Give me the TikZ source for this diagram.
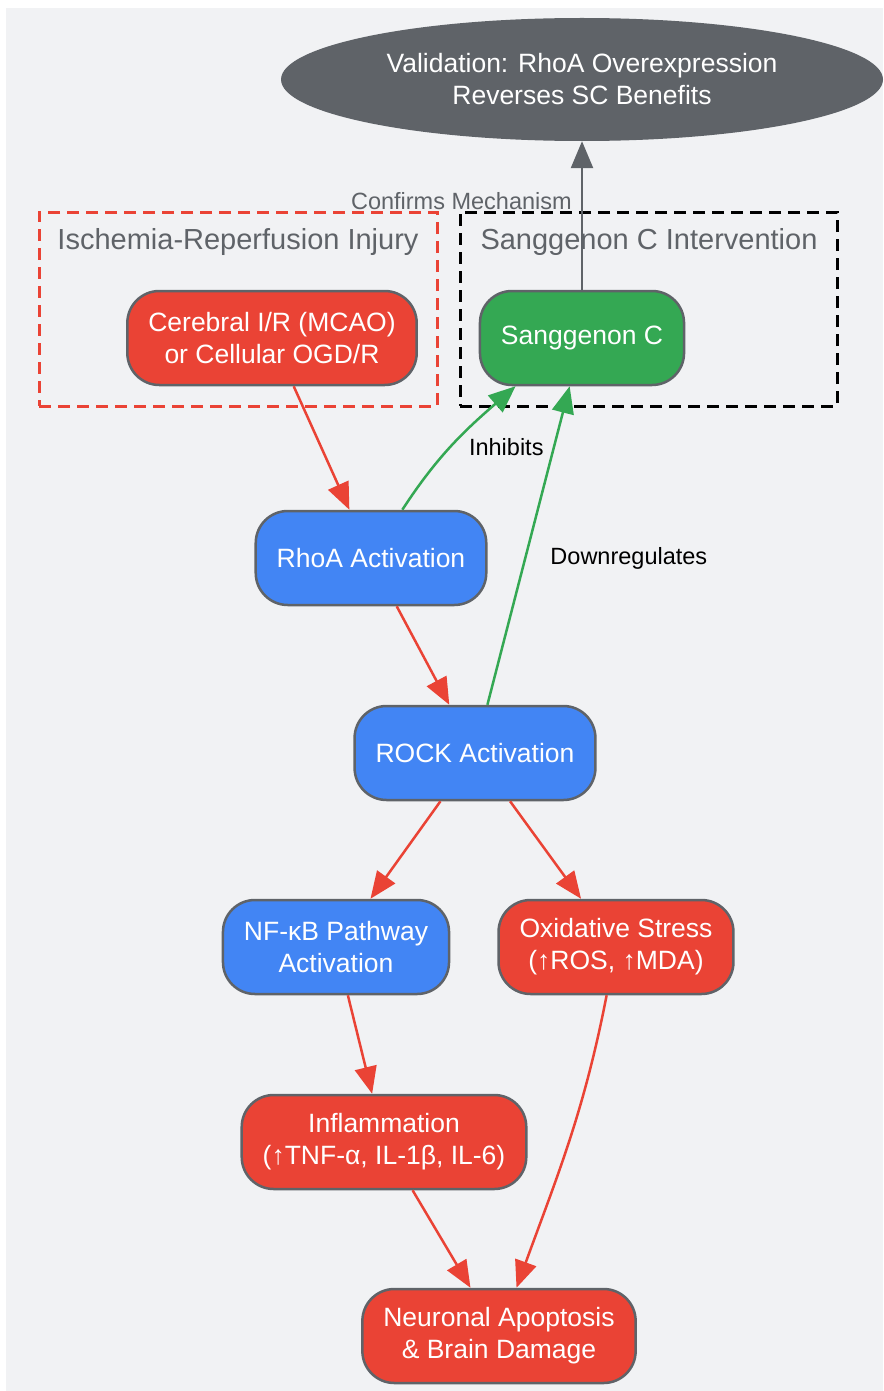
\documentclass[tikz,border=0pt]{standalone}
\usepackage{fontspec}
\setmainfont{Liberation Sans}
\usetikzlibrary{shapes.geometric,arrows.meta,positioning}
\definecolor{irred}{HTML}{EA4335}
\definecolor{rhoblue}{HTML}{4285F4}
\definecolor{scgreen}{HTML}{34A853}
\definecolor{slate}{HTML}{5F6368}
\definecolor{paper}{HTML}{F1F2F4}
\def\nodefont{\fontsize{26.5}{32}\selectfont}
\def\clusterfont{\fontsize{29}{35}\selectfont}
\def\labelfont{\fontsize{23.5}{28}\selectfont}
\def\lw{2.5pt}
\tikzstyle{proc} = [draw=slate,line width=\lw,rectangle,rounded corners=32pt,minimum height=94pt,inner xsep=21pt,align=center,text=white,font=\nodefont]
\tikzstyle{goal} = [ellipse,fill=slate,minimum width=602pt,minimum height=123pt,inner sep=0pt,align=center,text=white,font=\nodefont]
\tikzstyle{cluster} = [draw,line width=3pt,rectangle,dash pattern=on 12pt off 7pt,inner sep=0pt]
\tikzstyle{ctitle} = [text=slate,font=\clusterfont,inner sep=0pt]
\tikzstyle{conn} = [line width=\lw,-{Triangle[length=27pt,width=22pt]}]
\tikzstyle{elabel} = [text=black,font=\labelfont,inner sep=0pt]

\begin{document}
\begin{tikzpicture}[x=1pt,y=-1pt]
  \useasboundingbox (0,0) rectangle (883,1391);
  \fill[paper] (6,8) rectangle (883,1391);

  \node[cluster,draw=irred,minimum width=398pt,minimum height=194pt] (irbox) at (238,309) {};
  \node[cluster,draw=black,minimum width=377pt,minimum height=194pt] (scbox) at (648.5,309) {};
  \node[ctitle] (irtitle) at (238,242) {Ischemia-Reperfusion Injury};
  \node[ctitle] (sctitle) at (649,242) {Sanggenon C Intervention};

  \node[goal] (val) at (582,79.5) {Validation: RhoA Overexpression\\Reverses SC Benefits};
  \node[proc,fill=irred] (ir) at (272,338) {Cerebral I/R (MCAO)\\or Cellular OGD/R};
  \node[proc,fill=scgreen] (sc) at (582,338) {Sanggenon C};
  \node[proc,fill=rhoblue] (rhoa) at (371,558) {RhoA Activation};
  \node[proc,fill=rhoblue] (rock) at (475,753) {ROCK Activation};
  \node[proc,fill=rhoblue] (nfkb) at (336,947) {NF-κB Pathway\\Activation};
  \node[proc,fill=irred] (ox) at (616,947) {Oxidative Stress\\(↑ROS, ↑MDA)};
  \node[proc,fill=irred] (infl) at (384,1142) {Inflammation\\(↑TNF-α, IL-1β, IL-6)};
  \node[proc,fill=irred] (apop) at (499,1336) {Neuronal Apoptosis\\\& Brain Damage};

  \draw[conn,irred] (ir) -- (rhoa);
  \draw[conn,irred] (rhoa) -- (rock);
  \draw[conn,irred] (rock) -- (nfkb);
  \draw[conn,irred] (rock) -- (ox);
  \draw[conn,irred] (nfkb) -- (infl);
  \draw[conn,irred] (infl) -- (apop);
  \draw[conn,irred] (ox) to[out=-101,in=70] (apop);
  \draw[conn,scgreen] (rhoa) to[out=57,in=-139]
    node[elabel,pos=0.5,anchor=west,xshift=14pt,yshift=-4pt] {Inhibits} (sc.-144);
  \draw[conn,scgreen] (rock) -- (sc)
    node[elabel,pos=0.46,anchor=west,xshift=24pt] {Downregulates};
  \draw[conn,slate] (sc) -- (val)
    node[elabel,text=slate,pos=0.6,anchor=east,xshift=-9pt] {Confirms Mechanism};
\end{tikzpicture}
\end{document}
